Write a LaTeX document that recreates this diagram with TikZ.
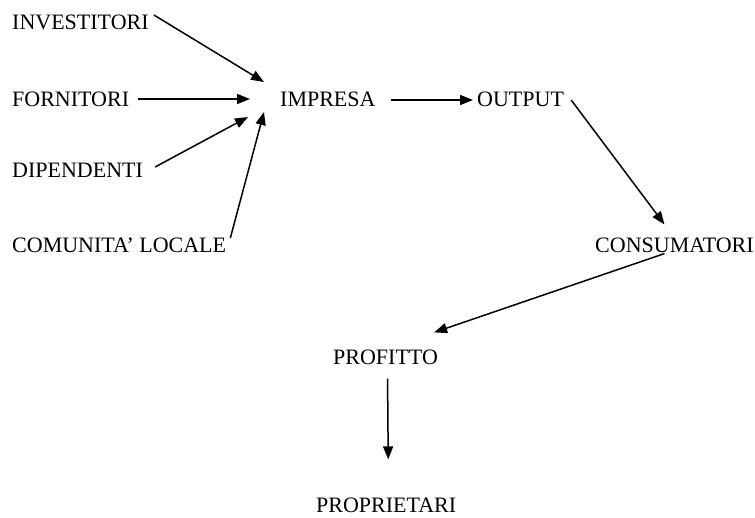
\documentclass[tikz,border=0pt]{standalone}
\usepackage{fontspec}
\setmainfont{Liberation Serif}
\usetikzlibrary{arrows.meta}

\begin{document}
\begin{tikzpicture}[x=1pt,y=-1pt,
  actor/.style={anchor=west,inner sep=0pt,
    font=\fontsize{22}{24}\selectfont},
  flow/.style={line width=1.5pt,-{Triangle[length=13pt,width=10pt]}}]
\useasboundingbox (0,0) rectangle (755,518);
\node[actor] (inv) at (12,22) {INVESTITORI};
\node[actor] (forn) at (12,99) {FORNITORI};
\node[actor] (dip) at (12,170) {DIPENDENTI};
\node[actor] (com) at (12,245) {COMUNITA' LOCALE};
\node[actor] (imp) at (280,99) {IMPRESA};
\node[actor] (out) at (477,99) {OUTPUT};
\node[actor] (cons) at (595,245) {CONSUMATORI};
\node[actor] (prof) at (333,357) {PROFITTO};
\node[actor] (prop) at (316,505) {PROPRIETARI};
\draw[flow] ([xshift=5pt,yshift=7pt]inv.east) -- ([xshift=-16pt,yshift=17pt]imp.west);
\draw[flow] ([xshift=9pt]forn.east) -- ([xshift=-30pt]imp.west);
\draw[flow] ([xshift=12pt,yshift=3pt]dip.east) -- ([xshift=-32pt,yshift=-18pt]imp.west);
\draw[flow] ([xshift=4pt,yshift=7pt]com.east) -- ([xshift=-16pt,yshift=-13pt]imp.west);
\draw[flow] ([xshift=15pt,yshift=-1pt]imp.east) -- ([xshift=-4pt,yshift=-1pt]out.west);
\draw[flow] ([xshift=7pt,yshift=-1pt]out.east) -- ([xshift=-10pt,yshift=13pt]cons.north);
\draw[flow] ([xshift=-10pt,yshift=-1pt]cons.south) -- ([xshift=-4pt,yshift=17pt]prof.north east);
\draw[flow] ([xshift=2pt,yshift=-14pt]prof.south) -- ([xshift=2pt,yshift=38pt]prop.north);
\end{tikzpicture}
\end{document}
